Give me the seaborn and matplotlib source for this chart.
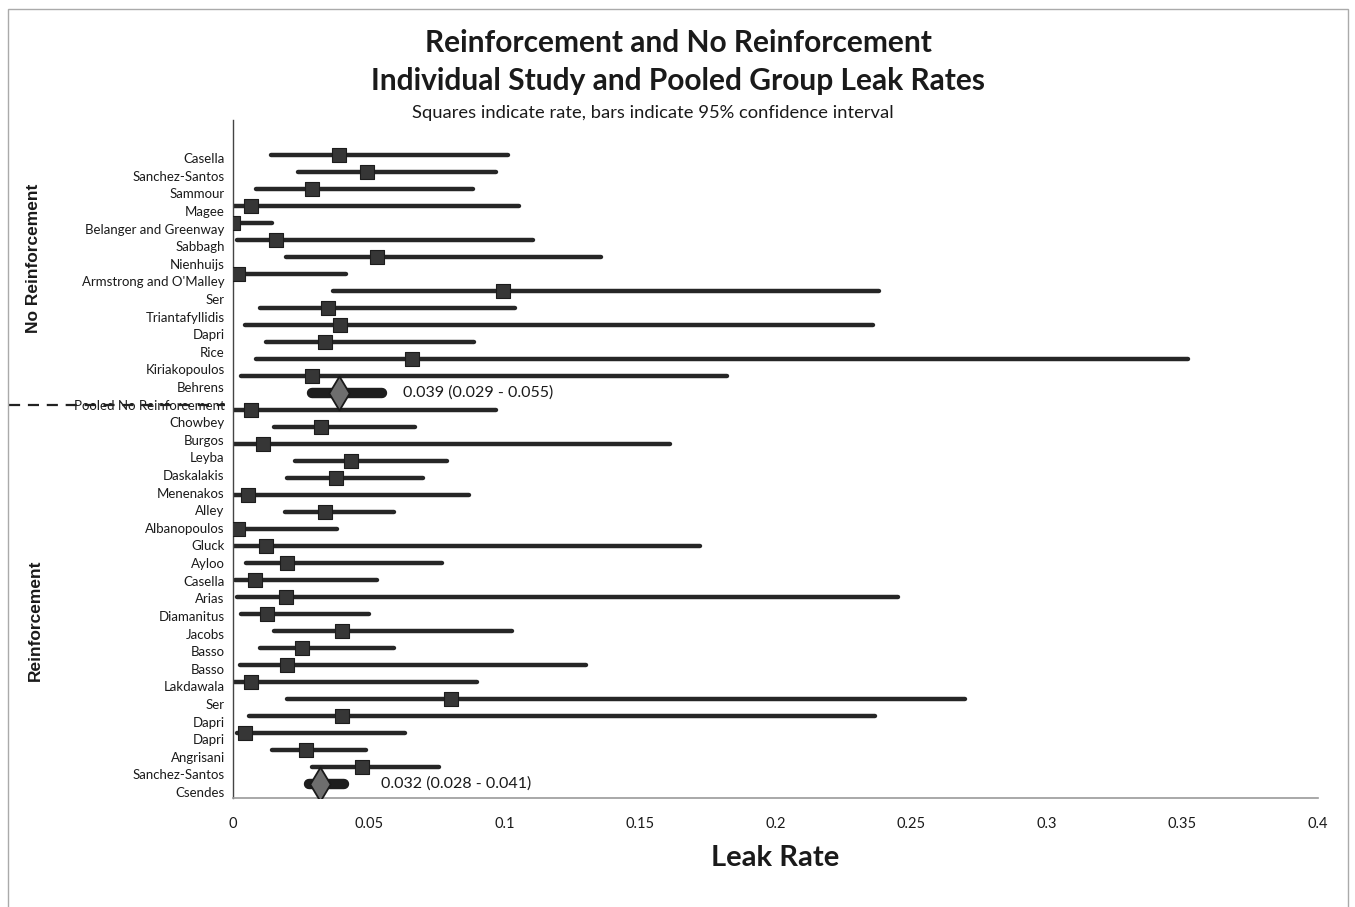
import numpy as np
import pandas as pd
import matplotlib
matplotlib.use("Agg")
import matplotlib.pyplot as plt
import matplotlib.transforms as mtransforms
from matplotlib.patches import Rectangle
import seaborn as sns

# category labels on the axis (37 labels, Excel-style, not exactly on rows)
tick_labels = ["Casella", "Sanchez-Santos", "Sammour", "Magee", "Belanger and Greenway",
               "Sabbagh", "Nienhuijs", "Armstrong and O'Malley", "Ser", "Triantafyllidis",
               "Dapri", "Rice", "Kiriakopoulos", "Behrens", "Pooled No Reinforcement",
               "Chowbey", "Burgos", "Leyba", "Daskalakis", "Menenakos", "Alley",
               "Albanopoulos", "Gluck", "Ayloo", "Casella", "Arias", "Diamanitus",
               "Jacobs", "Basso", "Basso", "Lakdawala", "Ser", "Dapri", "Dapri",
               "Angrisani", "Sanchez-Santos", "Csendes"]

# no reinforcement studies
nr_rate = [0.039, 0.0495, 0.029, 0.0065, 0.0, 0.016, 0.053, 0.002, 0.0995, 0.035,
           0.0395, 0.034, 0.066, 0.029]
nr_lo = [0.014, 0.024, 0.0085, 0.0, 0.0, 0.0015, 0.0195, 0.0, 0.037, 0.010,
         0.0045, 0.012, 0.0085, 0.003]
nr_hi = [0.1015, 0.097, 0.0885, 0.1055, 0.0145, 0.1105, 0.1355, 0.0415, 0.238, 0.104,
         0.236, 0.089, 0.352, 0.182]

# reinforcement studies
r_rate = [0.0065, 0.0325, 0.011, 0.0435, 0.038, 0.0055, 0.034, 0.002, 0.012, 0.020, 0.008,
          0.0195, 0.0125, 0.040, 0.0255, 0.020, 0.0065, 0.0805, 0.040, 0.0045, 0.027, 0.0475]
r_lo = [0.0, 0.0152, 0.0, 0.023, 0.020, 0.0, 0.019, 0.0, 0.0, 0.0047, 0.0007,
        0.0014, 0.003, 0.015, 0.010, 0.0026, 0.0005, 0.020, 0.0057, 0.0014, 0.0145, 0.029]
r_hi = [0.097, 0.067, 0.161, 0.079, 0.070, 0.087, 0.0595, 0.0385, 0.172, 0.077, 0.053,
        0.245, 0.050, 0.103, 0.0595, 0.130, 0.090, 0.270, 0.2365, 0.0635, 0.049, 0.076]

# pooled estimates
pooled_rate = [0.039, 0.032]
pooled_lo = [0.029, 0.028]
pooled_hi = [0.055, 0.041]

nr_rows = list(range(0, len(nr_rate)))
nr_pool_row = len(nr_rate)
r_rows = list(range(nr_pool_row + 1, nr_pool_row + 1 + len(r_rate)))
r_pool_row = r_rows[-1] + 1

studies = pd.DataFrame({
    "row": nr_rows + r_rows,
    "rate": nr_rate + r_rate,
    "lo": nr_lo + r_lo,
    "hi": nr_hi + r_hi,
})
pooled = pd.DataFrame({
    "row": [nr_pool_row, r_pool_row],
    "rate": pooled_rate,
    "lo": pooled_lo,
    "hi": pooled_hi,
})

sns.set_style("white")
plt.rcParams["font.family"] = ["Lato", "DejaVu Sans"]
ink = "#1a1a1a"

fig = plt.figure(figsize=(13.55, 9.07), dpi=100)
ax = fig.add_axes([0.172, 0.1202, 0.8007, 0.7475])

# confidence interval bars + squares
ax.hlines(studies["row"], studies["lo"], studies["hi"], color="#262626", lw=3.2,
          capstyle="round", zorder=2)
sns.scatterplot(data=studies, x="rate", y="row", marker="s", s=105, color="#363636",
                edgecolor="#1c1c1c", linewidth=0.8, ax=ax, zorder=3, legend=False)

# pooled rows: thick bar + diamond
ax.hlines(pooled["row"], pooled["lo"], pooled["hi"], color="#1e1e1e", lw=7.5,
          capstyle="round", zorder=2)
sns.scatterplot(data=pooled, x="rate", y="row", marker="d", s=300, color="#6e6e6e",
                edgecolor="#1a1a1a", linewidth=1.3, ax=ax, zorder=4, legend=False)

text_gap = [0.0075, 0.0135]
for (_, p), gap in zip(pooled.iterrows(), text_gap):
    ax.text(p["hi"] + gap, p["row"], f"{p['rate']:.3f} ({p['lo']:.3f} - {p['hi']:.3f})",
            va="center", ha="left", fontsize=11.5, color=ink)

ax.set_xlim(0, 0.4)
ax.set_ylim(r_pool_row + 0.82, -2.06)
xt = np.arange(0, 0.401, 0.05)
ax.set_xticks(xt)
ax.set_xticklabels(["0"] + [f"{v:g}" for v in xt[1:]], fontsize=10.5, color=ink)

label_pos = np.linspace(0.18, 37.47, len(tick_labels))
ax.set_yticks(label_pos)
ax.set_yticklabels(tick_labels, fontsize=9.5, color=ink)
ax.tick_params(axis="both", length=0)
ax.tick_params(axis="x", pad=14)
ax.tick_params(axis="y", pad=6)

ax.set_xlabel("Leak Rate", fontsize=21, fontweight="bold", labelpad=10, color=ink)
ax.set_ylabel("")

sns.despine(ax=ax)
ax.spines["left"].set_color("#444444")
ax.spines["left"].set_linewidth(1)
ax.spines["bottom"].set_color("#9a9a9a")
ax.spines["bottom"].set_linewidth(1.2)

# titles
fig.text(0.5007, 0.9526, "Reinforcement and No Reinforcement", ha="center", va="center",
         fontsize=21.5, fontweight="bold", color=ink)
fig.text(0.5007, 0.9107, "Individual Study and Pooled Group Leak Rates", ha="center",
         va="center", fontsize=21.5, fontweight="bold", color=ink)
fig.text(0.4815, 0.8754, "Squares indicate rate, bars indicate 95% confidence interval",
         ha="center", va="center", fontsize=13.2, color=ink)

# group labels on the left
fig.text(0.0244, 0.7155, "No Reinforcement", rotation=90, ha="center", va="center",
         fontsize=12.5, fontweight="bold", family=["Liberation Sans", "DejaVu Sans"], color=ink)
fig.text(0.0258, 0.3164, "Reinforcement", rotation=90, ha="center", va="center",
         fontsize=12.5, fontweight="bold", family=["Liberation Sans", "DejaVu Sans"], color=ink)

# dashed separator through the pooled label
trans = mtransforms.blended_transform_factory(fig.transFigure, ax.transData)
sep_y = label_pos[tick_labels.index("Pooled No Reinforcement")]
ax.plot([0.007, 0.166], [sep_y, sep_y], transform=trans, clip_on=False,
        color="#222222", lw=1.6, linestyle=(0, (5, 3.5)), zorder=5)

# outer frame
fig.patches.append(Rectangle((0.006, -0.01), 0.989, 1.0, transform=fig.transFigure,
                             fill=False, edgecolor="#aaaaaa", lw=1))

fig.savefig("out.png", dpi=100)
